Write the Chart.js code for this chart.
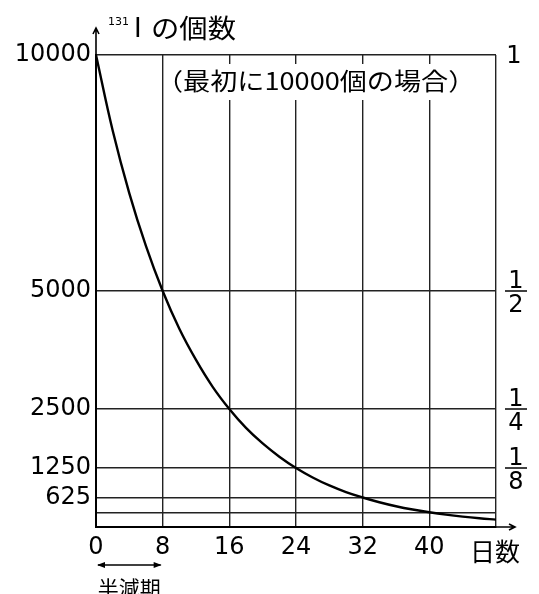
<!DOCTYPE html>
<html>
<head>
<meta charset="utf-8">
<script src="https://cdn.jsdelivr.net/npm/chart.js@4"></script>
<style>
  html, body { margin: 0; padding: 0; background: #fff; }
  #wrap { width: 539px; height: 594px; }
</style>
</head>
<body>
<div id="wrap"><canvas id="decay" width="539" height="594"></canvas></div>
<script>
// data
const days   = [0, 2, 4, 6, 8, 10, 12, 14, 16, 18, 20, 22, 24, 26, 28, 30, 32, 34, 36, 38, 40, 42, 44, 46, 48];
const counts = [10000, 8400, 7070, 5950, 5000, 4200, 3540, 2970, 2500, 2100, 1770, 1490, 1250, 1050, 880, 740, 625, 525, 440, 370, 312, 262, 220, 185, 156];

const xTicks      = [0, 8, 16, 24, 32, 40, 48];
const xTickLabels = ["0", "8", "16", "24", "32", "40", ""];
const yTicks      = [312.5, 625, 1250, 2500, 5000, 10000];
const yTickLabels = ["", "625", "1250", "2500", "5000", "10000"];

// right-hand fractions
const fracValues = [10000, 5000, 2500, 1250];
const fracNum    = ["1", "1", "1", "1"];
const fracDen    = ["", "2", "4", "8"];

const numFont = "DejaVu Sans, Liberation Sans, sans-serif";
const jpFont  = "'Noto Sans CJK JP', sans-serif";

// text drawn a bit wider than tall, like the original
function wideText(ctx, str, x, y, sx) {
  ctx.save();
  ctx.translate(x, y);
  ctx.scale(sx, 1);
  ctx.fillText(str, 0, 0);
  ctx.restore();
}

const extras = {
  id: "extras",
  afterDraw(chart) {
    const { ctx, chartArea: a, scales: { x, y } } = chart;
    ctx.save();
    ctx.strokeStyle = "#000";
    ctx.fillStyle = "#000";
    ctx.lineWidth = 1.6;

    // axis arrows
    ctx.beginPath();
    ctx.moveTo(a.left, a.top); ctx.lineTo(a.left, a.top - 27);
    ctx.moveTo(a.left - 3, a.top - 21); ctx.lineTo(a.left, a.top - 27); ctx.lineTo(a.left + 3, a.top - 21);
    ctx.moveTo(a.right, a.bottom); ctx.lineTo(a.right + 19, a.bottom);
    ctx.moveTo(a.right + 13, a.bottom - 3); ctx.lineTo(a.right + 19, a.bottom); ctx.lineTo(a.right + 13, a.bottom + 3);
    ctx.stroke();

    // right side fractions
    ctx.font = "24px " + numFont;
    ctx.textAlign = "center";
    const fx = a.right + 20;
    fracValues.forEach((v, i) => {
      const py = y.getPixelForValue(v);
      if (!fracDen[i]) {
        ctx.textBaseline = "middle";
        ctx.fillText(fracNum[i], fx - 2, py + 2);
        return;
      }
      ctx.textBaseline = "alphabetic";
      ctx.fillText(fracNum[i], fx, py - 3);
      ctx.textBaseline = "top";
      ctx.fillText(fracDen[i], fx, py + 3);
      ctx.lineWidth = 1.5;
      ctx.beginPath();
      ctx.moveTo(fx - 11, py); ctx.lineTo(fx + 11, py);
      ctx.stroke();
    });

    // titles
    ctx.textAlign = "left";
    ctx.textBaseline = "middle";
    ctx.font = "11px " + numFont;
    ctx.fillText("131", 108, 22);
    ctx.font = "26px " + numFont;
    ctx.fillText("I", 134, 30);
    ctx.font = "26px " + jpFont;
    wideText(ctx, "の個数", 151, 28, 1.09);

    // note with a white box over the grid
    ctx.fillStyle = "#fff";
    ctx.fillRect(166, 64, 294, 36);
    ctx.fillStyle = "#000";
    ctx.font = "24px " + jpFont;
    wideText(ctx, "（最初に10000個の場合）", 156, 81, 1.13);

    ctx.font = "25px " + jpFont;
    ctx.fillText("日数", 470, 551);

    // half-life arrow
    const x0 = x.getPixelForValue(0), x8 = x.getPixelForValue(8);
    ctx.lineWidth = 1.5;
    ctx.beginPath();
    ctx.moveTo(x0 + 2, 565); ctx.lineTo(x8 - 2, 565);
    ctx.stroke();
    ctx.beginPath();
    ctx.moveTo(x0 + 1, 565); ctx.lineTo(x0 + 9, 562); ctx.lineTo(x0 + 9, 568); ctx.closePath();
    ctx.moveTo(x8 - 1, 565); ctx.lineTo(x8 - 9, 562); ctx.lineTo(x8 - 9, 568); ctx.closePath();
    ctx.fill();
    ctx.font = "21px " + jpFont;
    ctx.textAlign = "center";
    ctx.fillText("半減期", (x0 + x8) / 2, 588);
    ctx.restore();
  }
};

new Chart(document.getElementById("decay"), {
  type: "line",
  data: {
    datasets: [{
      data: days.map((d, i) => ({ x: d, y: counts[i] })),
      borderColor: "#000",
      borderWidth: 2.4,
      pointRadius: 0,
      tension: 0.4,
      fill: false
    }]
  },
  options: {
    responsive: false,
    animation: false,
    devicePixelRatio: 1,
    layout: { padding: { left: 0, top: 55, right: 43, bottom: 0 } },
    plugins: { legend: { display: false }, tooltip: { enabled: false } },
    scales: {
      x: {
        type: "linear", min: 0, max: 48,
        afterBuildTicks: s => { s.ticks = xTicks.map(v => ({ value: v })); },
        afterFit: s => { s.height = 67; },
        grid: { color: "#222", lineWidth: 1.4, drawTicks: false },
        border: { color: "#000", width: 2 },
        ticks: {
          padding: 6, color: "#000", maxRotation: 0, autoSkip: false,
          font: { family: numFont, size: 24 },
          callback: (v, i) => xTickLabels[i]
        }
      },
      y: {
        type: "linear", min: 0, max: 10000,
        afterBuildTicks: s => { s.ticks = yTicks.map(v => ({ value: v })); },
        afterFit: s => { s.width = 96; },
        grid: { color: "#222", lineWidth: 1.4, drawTicks: false },
        border: { color: "#000", width: 2 },
        ticks: {
          padding: 5, color: "#000", autoSkip: false,
          font: { family: numFont, size: 24 },
          callback: (v, i) => yTickLabels[i]
        }
      }
    }
  },
  plugins: [extras]
});
</script>
</body>
</html>
